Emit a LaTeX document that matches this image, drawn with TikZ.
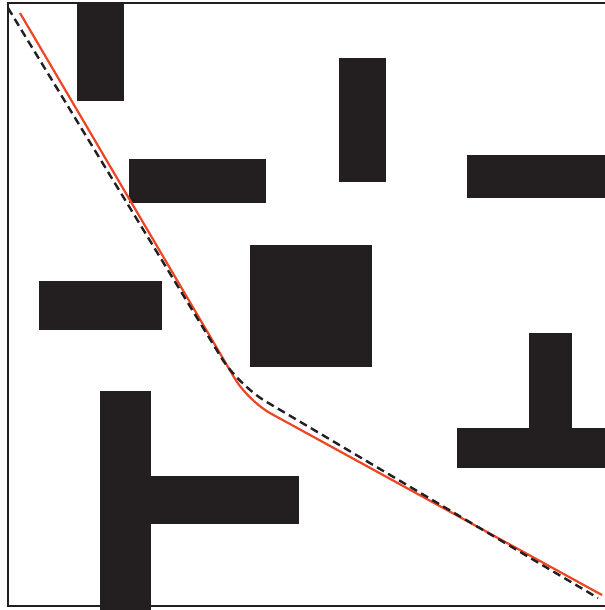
\documentclass[tikz,border=0pt]{standalone}
\usepackage{tikz}
\usetikzlibrary{calc}
\definecolor{obst}{HTML}{231F20}
\definecolor{plan}{HTML}{EE4524}

\begin{document}
\begin{tikzpicture}[
    x=0.025cm, y=-0.025cm,
    block/.style={fill=obst, draw=none},
    frame/.style={draw=obst, line width=0.05cm},
    smooth path/.style={draw=plan, line width=0.055cm, rounded corners=0.65cm},
    ref path/.style={draw=obst, line width=0.06cm, dash pattern=on 0.2cm off 0.12cm, rounded corners=0.8cm},
  ]
  \useasboundingbox (0,0) rectangle (604,610);
  % ------------------------------------------------------------------ obstacles
  \foreach \xa/\ya/\xb/\yb in {77/3/124/101, 129/159/266/203, 339/58/386/182, 467/155/610/198,
      39/281/162/330, 250/245/372/367, 529/333/572/430, 457/428/610/468,
      100/391/151/610, 151/476/299/524} {
    \fill[block] (\xa,\ya) rectangle (\xb,\yb);
  }
  % ------------------------------------------------------------------ workspace border
  \draw[frame] (610,3) -- (8,3) -- (8,606) -- (610,606);
  % ------------------------------------------------------------------ the two paths
  \coordinate (r0) at (20,13);
  \coordinate (r1) at (248,401);
  \coordinate (r2) at (602,595);
  \coordinate (d0) at (8,8);
  \coordinate (d1) at (238,385);
  \coordinate (d2) at (598,598);
  \draw[smooth path] (r0) -- (r1) -- (r2);
  \draw[ref path] (d0) -- (d1) -- (d2);
\end{tikzpicture}
\end{document}
